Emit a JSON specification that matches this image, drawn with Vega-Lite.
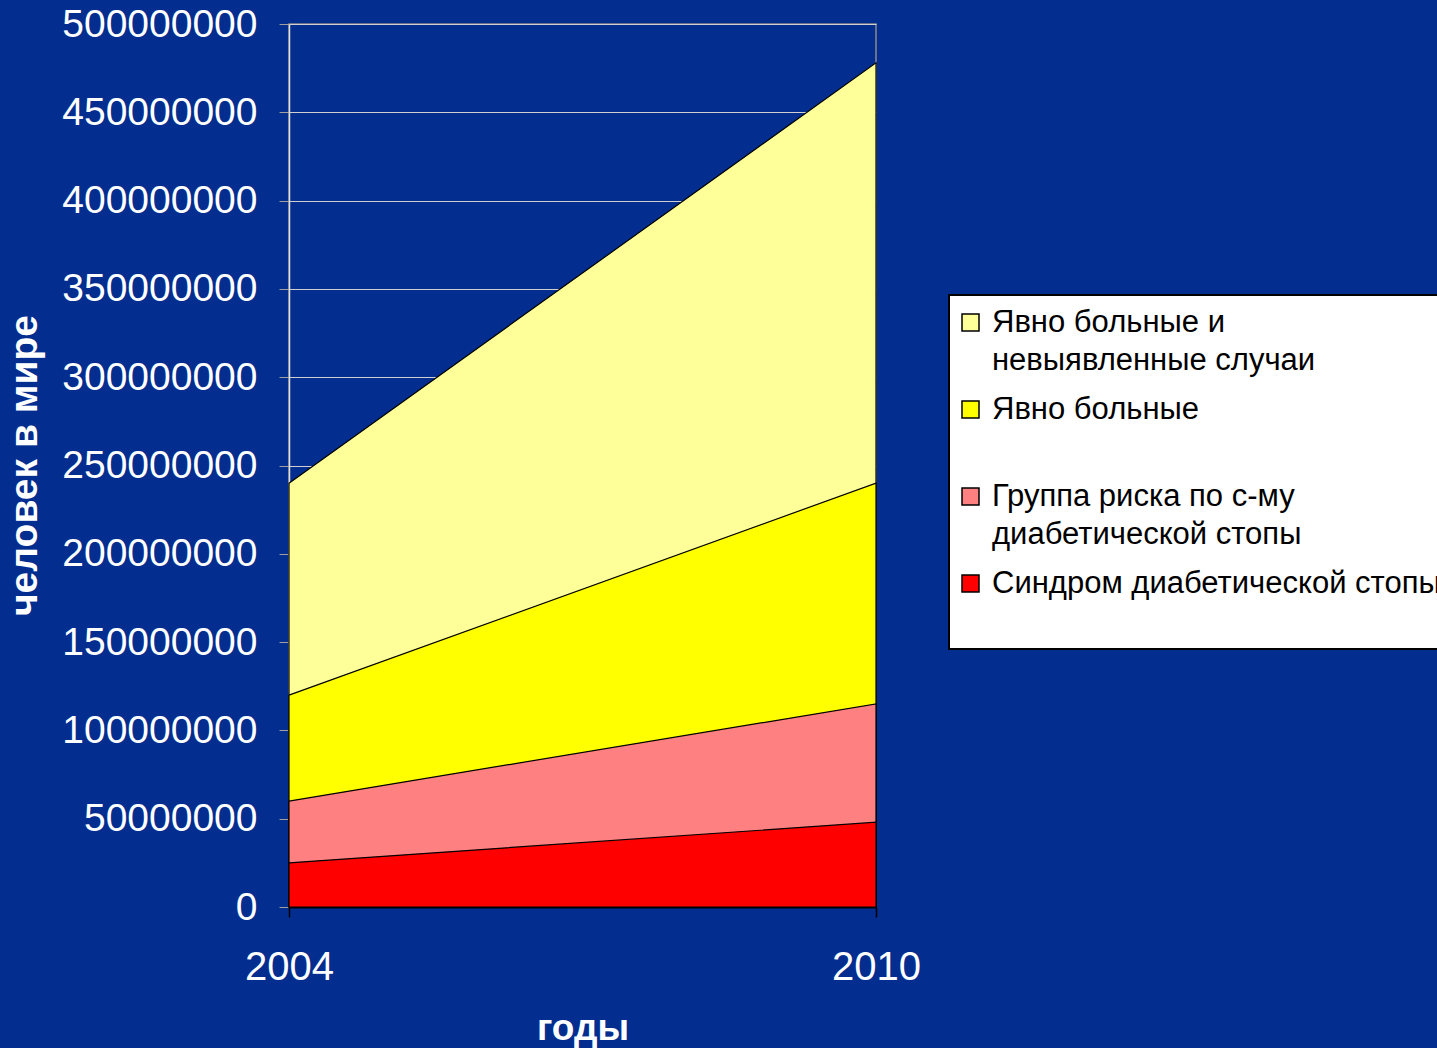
{
  "$schema": "https://vega.github.io/schema/vega-lite/v6.json",
  "width": 587,
  "height": 883,
  "autosize": {"type": "none"},
  "padding": {"left": 289, "top": 24, "right": 561, "bottom": 141},
  "background": "#032d8f",
  "config": {
    "view": {"stroke": "#8a8a8a", "strokeWidth": 1.5},
    "font": "Liberation Sans"
  },
  "data": {
    "values": [
      {"year": 2004, "group": "Явно больные и невыявленные случаи", "value": 240000000},
      {"year": 2010, "group": "Явно больные и невыявленные случаи", "value": 478000000},
      {"year": 2004, "group": "Явно больные", "value": 120000000},
      {"year": 2010, "group": "Явно больные", "value": 240000000},
      {"year": 2004, "group": "Группа риска по с-му диабетической стопы", "value": 60000000},
      {"year": 2010, "group": "Группа риска по с-му диабетической стопы", "value": 115000000},
      {"year": 2004, "group": "Синдром диабетической стопы", "value": 25000000},
      {"year": 2010, "group": "Синдром диабетической стопы", "value": 48000000}
    ]
  },
  "mark": {"type": "area", "stroke": "black", "strokeWidth": 1.2, "opacity": 1},
  "encoding": {
    "x": {
      "field": "year",
      "type": "quantitative",
      "scale": {"domain": [2004, 2010], "nice": false, "zero": false},
      "axis": {
        "title": "годы",
        "values": [2004, 2010],
        "format": "d",
        "grid": false,
        "labelFlush": false,
        "labelFont": "Liberation Sans",
        "labelFontSize": 40,
        "labelColor": "white",
        "labelPadding": 30,
        "domainColor": "black",
        "domainWidth": 2,
        "tickColor": "black",
        "tickWidth": 1.5,
        "tickSize": 10,
        "titleFont": "Liberation Sans",
        "titleFontSize": 37,
        "titleFontWeight": "bold",
        "titleColor": "white",
        "titlePadding": 23
      }
    },
    "y": {
      "field": "value",
      "type": "quantitative",
      "stack": null,
      "scale": {"domain": [0, 500000000], "nice": false},
      "axis": {
        "title": "человек в мире",
        "values": [0, 50000000, 100000000, 150000000, 200000000, 250000000, 300000000, 350000000, 400000000, 450000000, 500000000],
        "format": "d",
        "labelFont": "Liberation Sans",
        "labelFontSize": 39,
        "labelLimit": 1000,
        "labelColor": "white",
        "labelPadding": 22,
        "tickColor": "#a0a0a0",
        "tickSize": 10,
        "domainColor": "#e0e0e0",
        "domainWidth": 1.5,
        "gridColor": "#d0d0d0",
        "gridWidth": 1,
        "titleFont": "Liberation Sans",
        "titleFontSize": 39,
        "titleFontWeight": "bold",
        "titleColor": "white",
        "titleX": -245,
        "titleY": 441
      }
    },
    "color": {
      "field": "group",
      "type": "nominal",
      "scale": {
        "domain": ["Явно больные и невыявленные случаи", "Явно больные", "Группа риска по с-му диабетической стопы", "Синдром диабетической стопы"],
        "range": ["#ffff99", "#ffff00", "#ff8080", "#ff0000"]
      },
      "legend": {
        "orient": "none",
        "legendX": 660,
        "legendY": 271,
        "title": null,
        "direction": "vertical",
        "fillColor": "white",
        "strokeColor": "black",
        "padding": 12,
        "labelFont": "Liberation Sans",
        "labelFontSize": 31,
        "labelColor": "black",
        "labelLimit": 1000,
        "labelOffset": 6,
        "rowPadding": 17,
        "symbolOffset": -6,
        "symbolType": "square",
        "symbolSize": 289,
        "symbolStrokeColor": "black",
        "symbolStrokeWidth": 1.5,
        "symbolOpacity": 1,
        "labelExpr": "datum.label == 'Явно больные и невыявленные случаи' ? ['Явно больные и', 'невыявленные случаи'] : datum.label == 'Группа риска по с-му диабетической стопы' ? ['Группа риска по с-му', 'диабетической стопы'] : [datum.label, '']",
        "encode": {
          "labels": {"update": {"lineHeight": {"value": 38}}},
          "legend": {"update": {"strokeWidth": {"value": 2}}}
        }
      }
    }
  }
}
